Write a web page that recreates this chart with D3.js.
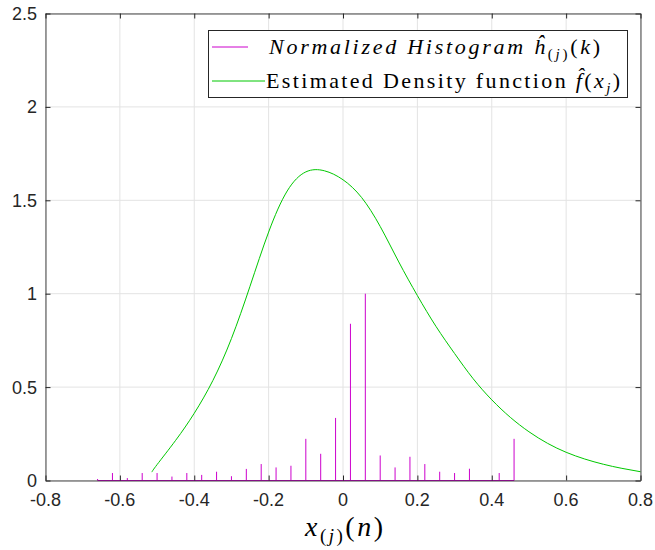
<!DOCTYPE html>
<html>
<head>
<meta charset="utf-8">
<script src="https://cdn.jsdelivr.net/npm/d3@7"></script>
<style>
  html, body { margin: 0; padding: 0; background: #fff; }
  svg { display: block; }
</style>
</head>
<body>
<svg id="chart" width="655" height="550"></svg>
<script>
// Histogram bin centres and normalised bin heights
const binCenters = [-0.66, -0.62, -0.58, -0.54, -0.50, -0.46, -0.42, -0.38, -0.34, -0.30,
                    -0.26, -0.22, -0.18, -0.14, -0.10, -0.06, -0.02, 0.02, 0.06, 0.10,
                    0.14, 0.18, 0.22, 0.26, 0.30, 0.34, 0.38, 0.42, 0.46];
const binHeights = [0.008, 0.040, 0.013, 0.040, 0.040, 0.021, 0.040, 0.030, 0.047, 0.023,
                    0.062, 0.088, 0.070, 0.079, 0.223, 0.143, 0.335, 0.839, 1.000, 0.134,
                    0.070, 0.127, 0.088, 0.047, 0.040, 0.063, 0.000, 0.040, 0.223];

// Estimated density curve samples
const densityX = [-0.514, -0.50, -0.45, -0.40, -0.35, -0.30, -0.25, -0.20, -0.15, -0.10,
                  -0.05, 0.00, 0.05, 0.10, 0.15, 0.20, 0.25, 0.30, 0.35,
                  0.40, 0.45, 0.50, 0.55, 0.60, 0.65, 0.70, 0.75, 0.80];
const densityY = [0.045, 0.085, 0.215, 0.360, 0.535, 0.760, 1.040, 1.330, 1.550, 1.652,
                  1.658, 1.610, 1.515, 1.360, 1.170, 0.990, 0.825, 0.680, 0.545,
                  0.432, 0.338, 0.261, 0.199, 0.151, 0.115, 0.087, 0.065, 0.047];

// Axis ticks
const xTicks = [-0.8, -0.6, -0.4, -0.2, 0, 0.2, 0.4, 0.6, 0.8];
const yTicks = [0, 0.5, 1, 1.5, 2, 2.5];
const xTickLabels = ["-0.8", "-0.6", "-0.4", "-0.2", "0", "0.2", "0.4", "0.6", "0.8"];
const yTickLabels = ["0", "0.5", "1", "1.5", "2", "2.5"];

const svg = d3.select("#chart");
const plotLeft = 45.5, plotRight = 640.5, plotTop = 13.5, plotBottom = 480.5;

const x = d3.scaleLinear().domain([-0.8, 0.8]).range([plotLeft, plotRight]);
const y = d3.scaleLinear().domain([0, 2.5]).range([plotBottom, plotTop]);

const axisColor = "#262626";
const gridColor = "#e3e3e3";
const stemColor = "#cc00cc";
const curveColor = "#00c800";
const tickFont = "'Liberation Sans', Arial, Helvetica, sans-serif";
const mathFont = "'Liberation Serif', 'Times New Roman', serif";

// grid
const grid = svg.append("g");
grid.selectAll("line.gx").data(xTicks).join("line")
  .attr("x1", d => x(d)).attr("x2", d => x(d))
  .attr("y1", plotTop).attr("y2", plotBottom)
  .attr("stroke", gridColor).attr("stroke-width", 1);
grid.selectAll("line.gy").data(yTicks).join("line")
  .attr("x1", plotLeft).attr("x2", plotRight)
  .attr("y1", d => y(d)).attr("y2", d => y(d))
  .attr("stroke", gridColor).attr("stroke-width", 1);

// histogram stems with their baseline
const plot = svg.append("g");
plot.append("line")
  .attr("x1", x(binCenters[0])).attr("x2", x(binCenters[binCenters.length - 1]))
  .attr("y1", y(0)).attr("y2", y(0))
  .attr("stroke", stemColor).attr("stroke-width", 1);
plot.selectAll("line.stem").data(binCenters).join("line")
  .attr("class", "stem")
  .attr("x1", d => x(d)).attr("x2", d => x(d))
  .attr("y1", y(0)).attr("y2", (d, i) => y(binHeights[i]))
  .attr("stroke", stemColor).attr("stroke-width", 1);

// density curve
const line = d3.line()
  .x(d => x(d[0])).y(d => y(d[1]))
  .curve(d3.curveNatural);
plot.append("path")
  .datum(densityX.map((v, i) => [v, densityY[i]]))
  .attr("d", line)
  .attr("fill", "none")
  .attr("stroke", curveColor)
  .attr("stroke-width", 1);

// axes with inward ticks on all four sides
const axisG = svg.append("g");
const xAxisB = d3.axisBottom(x).tickValues(xTicks).tickSizeInner(-5).tickSizeOuter(0).tickFormat("");
const xAxisT = d3.axisTop(x).tickValues(xTicks).tickSizeInner(-5).tickSizeOuter(0).tickFormat("");
const yAxisL = d3.axisLeft(y).tickValues(yTicks).tickSizeInner(-5).tickSizeOuter(0).tickFormat("");
const yAxisR = d3.axisRight(y).tickValues(yTicks).tickSizeInner(-5).tickSizeOuter(0).tickFormat("");
[[xAxisB, `translate(0,${plotBottom})`], [xAxisT, `translate(0,${plotTop})`],
 [yAxisL, `translate(${plotLeft},0)`], [yAxisR, `translate(${plotRight},0)`]].forEach(([ax, tr]) => {
  const g = axisG.append("g").attr("transform", tr).call(ax);
  g.selectAll("path.domain").attr("stroke", axisColor).attr("stroke-opacity", 0.85);
  g.selectAll(".tick line").attr("stroke", axisColor);
});

// tick labels
svg.append("g").selectAll("text").data(xTicks).join("text")
  .attr("x", d => x(d)).attr("y", 506)
  .attr("text-anchor", "middle")
  .attr("font-family", tickFont).attr("font-size", 18)
  .attr("fill", axisColor)
  .text((d, i) => xTickLabels[i]);
svg.append("g").selectAll("text").data(yTicks).join("text")
  .attr("x", 37).attr("y", d => y(d) + 6.5)
  .attr("text-anchor", "end")
  .attr("font-family", tickFont).attr("font-size", 18)
  .attr("fill", axisColor)
  .text((d, i) => yTickLabels[i]);

// x axis label: x_(j)(n)
const xl = svg.append("text")
  .attr("x", 305).attr("y", 536)
  .attr("font-family", mathFont).attr("font-size", 28)
  .attr("textLength", 78).attr("lengthAdjust", "spacing")
  .attr("fill", "#000");
xl.append("tspan").attr("font-style", "italic").text("x");
xl.append("tspan").attr("font-size", 19).attr("dy", 6).text("(");
xl.append("tspan").attr("font-size", 19).attr("font-style", "italic").text("j");
xl.append("tspan").attr("font-size", 19).text(")");
xl.append("tspan").attr("dy", -6).text("(");
xl.append("tspan").attr("font-style", "italic").text("n");
xl.append("tspan").text(")");

// legend
const lg = svg.append("g");
lg.append("rect")
  .attr("x", 208.5).attr("y", 30.5).attr("width", 419).attr("height", 67)
  .attr("fill", "#fff").attr("stroke", axisColor).attr("stroke-width", 1);
lg.append("line")
  .attr("x1", 212).attr("x2", 248).attr("y1", 47).attr("y2", 47)
  .attr("stroke", stemColor).attr("stroke-width", 1);
lg.append("line")
  .attr("x1", 212).attr("x2", 265).attr("y1", 81).attr("y2", 81)
  .attr("stroke", curveColor).attr("stroke-width", 1);

const t1 = lg.append("text")
  .attr("x", 269).attr("y", 54)
  .attr("font-family", mathFont).attr("font-size", 22)
  .attr("textLength", 331).attr("lengthAdjust", "spacing")
  .attr("fill", "#000");
t1.append("tspan").attr("font-style", "italic").text("Normalized Histogram ");
t1.append("tspan").attr("font-style", "italic").text("\u0125");
t1.append("tspan").attr("font-size", 15).attr("dy", 5).text("(");
t1.append("tspan").attr("font-size", 15).attr("font-style", "italic").text("j");
t1.append("tspan").attr("font-size", 15).text(")");
t1.append("tspan").attr("dy", -5).text("(");
t1.append("tspan").attr("font-style", "italic").text("k");
t1.append("tspan").text(")");

const t2 = lg.append("text")
  .attr("x", 266).attr("y", 88)
  .attr("font-family", mathFont).attr("font-size", 22)
  .attr("textLength", 354).attr("lengthAdjust", "spacing")
  .attr("fill", "#000");
t2.append("tspan").text("Estimated Density function ");
t2.append("tspan").attr("font-style", "italic").text("f\u0302");
t2.append("tspan").text("(");
t2.append("tspan").attr("font-style", "italic").text("x");
t2.append("tspan").attr("font-size", 15).attr("font-style", "italic").attr("dy", 5).text("j");
t2.append("tspan").attr("dy", -5).text(")");
</script>
</body>
</html>
